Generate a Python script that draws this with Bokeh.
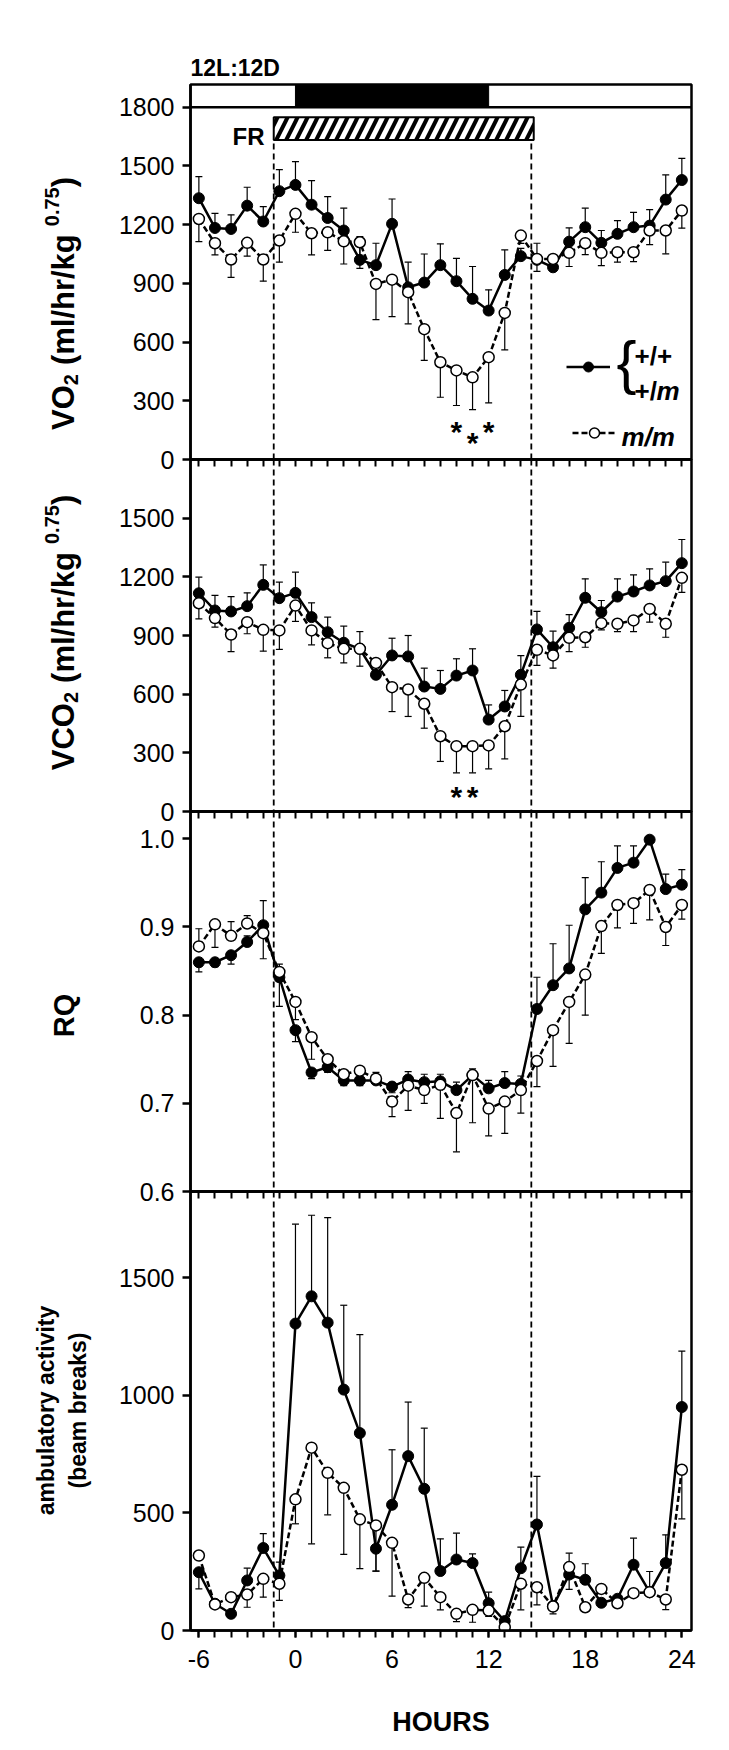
import math
from bokeh.plotting import figure
from bokeh.models import (Range1d, FixedTicker, Span, Label, Legend, LegendItem,
                          ColumnDataSource, PrintfTickFormatter)
from bokeh.layouts import column, row
from bokeh.embed import file_html
from bokeh.resources import INLINE
from bokeh.core.properties import value

FONT = "Liberation Sans"

# ---------------- data ----------------
hours = list(range(-6, 25))
x_tick_labels = [-6, 0, 6, 12, 18, 24]

vo2_wt = [1335, 1183, 1178, 1297, 1216, 1371, 1403, 1302, 1234, 1170, 1020, 993, 1204, 880, 904, 993,
          911, 821, 761, 943, 1039, 1020, 982, 1113, 1187, 1107, 1153, 1187, 1195, 1328, 1428]
vo2_wt_bar = [1445, 1258, 1250, 1391, 1292, 1481, 1522, 1425, 1343, 1284, 1139, 1105, 1331, 1008, 1050, 1102,
              1028, 986, 867, 1071, 1079, 1105, 1012, 1183, 1284, 1170, 1221, 1263, 1277, 1454, 1539]
vo2_mm = [1229, 1105, 1022, 1107, 1022, 1119, 1255, 1156, 1161, 1115, 1110, 897, 919, 855, 666, 497,
          455, 420, 523, 749, 1144, 1025, 1025, 1056, 1105, 1056, 1059, 1059, 1170, 1170, 1272]
vo2_mm_bar = [1113, 1045, 931, 1039, 911, 1008, 1161, 1045, 1068, 999, 977, 715, 730, 693, 506, 318,
              276, 255, 289, 560, 1104, 961, 995, 986, 1047, 991, 1008, 1011, 1098, 1051, 1182]

vco2_wt = [1116, 1028, 1023, 1050, 1159, 1091, 1118, 994, 917, 863, 832, 699, 798, 793, 639, 627,
           695, 721, 470, 537, 699, 931, 840, 939, 1093, 1019, 1099, 1125, 1156, 1178, 1270]
vco2_wt_bar = [1198, 1105, 1099, 1118, 1261, 1173, 1224, 1067, 994, 948, 920, 769, 886, 900, 733, 721,
               781, 832, 545, 619, 797, 1023, 922, 1007, 1190, 1079, 1190, 1210, 1241, 1275, 1391]
vco2_mm = [1065, 989, 905, 968, 929, 926, 1053, 926, 861, 832, 832, 760, 636, 624, 551, 385,
           334, 334, 338, 436, 649, 827, 798, 888, 891, 963, 960, 977, 1036, 960, 1195]
vco2_mm_bar = [985, 943, 818, 909, 820, 829, 972, 852, 786, 760, 743, 716, 511, 486, 426, 256,
               198, 198, 218, 269, 486, 747, 733, 818, 840, 929, 920, 920, 968, 891, 1121]

rq_wt = [0.860, 0.860, 0.868, 0.883, 0.902, 0.843, 0.783, 0.735, 0.741, 0.726, 0.726, 0.726, 0.719, 0.727,
         0.724, 0.725, 0.715, 0.732, 0.717, 0.723, 0.722, 0.807, 0.834, 0.853, 0.920, 0.939, 0.967, 0.973,
         0.999, 0.943, 0.948]
rq_wt_bar = [0.849, 0.855, 0.858, 0.890, 0.930, 0.810, 0.770, 0.728, 0.735, 0.720, 0.720, 0.735, 0.712, 0.736,
             0.733, 0.733, 0.724, 0.739, 0.726, 0.736, 0.731, 0.843, 0.881, 0.902, 0.956, 0.974, 0.992, 0.992,
             0.999, 0.960, 0.965]
rq_mm = [0.878, 0.903, 0.890, 0.904, 0.893, 0.849, 0.815, 0.775, 0.750, 0.733, 0.737, 0.728, 0.702, 0.720,
         0.715, 0.721, 0.689, 0.732, 0.694, 0.702, 0.715, 0.748, 0.783, 0.815, 0.846, 0.901, 0.925, 0.927,
         0.942, 0.900, 0.925]
rq_mm_bar = [0.898, 0.877, 0.906, 0.913, 0.864, 0.858, 0.795, 0.750, 0.745, 0.728, 0.725, 0.722, 0.685, 0.692,
             0.700, 0.683, 0.645, 0.678, 0.663, 0.666, 0.689, 0.719, 0.742, 0.768, 0.800, 0.870, 0.899, 0.904,
             0.908, 0.879, 0.909]

act_wt = [248, 114, 71, 213, 351, 234, 1306, 1422, 1310, 1025, 840, 348, 535, 742, 603, 253,
          302, 287, 116, 40, 265, 451, 104, 238, 216, 118, 135, 280, 163, 287, 951]
act_wt_bar = [177, 114, 71, 265, 412, 291, 1729, 1767, 1757, 1384, 1259, 253, 769, 972, 861, 390,
              414, 326, 163, 40, 355, 656, 104, 329, 284, 118, 135, 393, 251, 407, 1189]
act_mm = [319, 111, 142, 153, 220, 199, 558, 778, 671, 607, 473, 447, 373, 132, 224, 142,
          71, 88, 85, 14, 199, 184, 102, 270, 99, 177, 116, 159, 163, 132, 684]
act_mm_bar = [319, 111, 142, 99, 142, 128, 454, 369, 492, 324, 263, 253, 146, 97, 104, 88,
              38, 35, 60, 14, 88, 109, 71, 175, 99, 160, 116, 159, 163, 89, 475]

vo2_ticks = [0, 300, 600, 900, 1200, 1500, 1800]
vco2_ticks = [0, 300, 600, 900, 1200, 1500]
rq_ticks = [0.6, 0.7, 0.8, 0.9, 1.0]
act_ticks = [0, 500, 1000, 1500]

dark_phase = [0, 12]          # dark part of the 12L:12D bar (hours)
fr_period = [-1.35, 14.65]    # food restriction window (dashed lines)
fr_box_right = 14.8
fr_box_y = [1633, 1749]       # FR box bottom/top in VO2 units
light_bar_y = [1800, 1916]

vo2_stars_x = [10, 11, 12]
vo2_stars_y = [190, 131, 190]
vco2_stars_x = [10, 11]
vco2_stars_y = [124, 124]

# ---------------- helpers ----------------
xr = Range1d(-6.52, 24.6)
FRAME_L = 190   # page x of the frames' left edge
LW = 110        # width of the label strip on the left


def make_fig(height, yr, top, bottom, mtop):
    p = figure(width=611, height=height, x_range=xr, y_range=yr, output_backend="svg",
               toolbar_location=None, min_border_left=FRAME_L - LW, min_border_right=30,
               min_border_top=top, min_border_bottom=bottom)
    p.margin = (mtop, 0, 0, 0)
    p.grid.visible = False
    p.background_fill_color = None
    p.border_fill_color = None
    p.outline_line_color = "black"
    p.outline_line_width = 2.5
    return p


def style(p, yticks, last=False):
    ya = p.yaxis[0]
    ya.ticker = FixedTicker(ticks=yticks, minor_ticks=[])
    ya.axis_line_width = 2.5
    ya.major_tick_line_width = 2.5
    ya.major_tick_out = 8
    ya.major_tick_in = 0
    ya.minor_tick_out = 0
    ya.minor_tick_in = 0
    ya.major_label_text_font = FONT
    ya.major_label_text_font_size = "25px"
    ya.major_label_text_color = "black"
    ya.major_label_standoff = 8
    xa = p.xaxis[0]
    xa.axis_line_width = 2.5
    xa.major_tick_line_width = 2
    xa.minor_tick_line_width = 2
    xa.major_tick_out = 7
    xa.major_tick_in = 0
    xa.minor_tick_out = 7
    xa.minor_tick_in = 0
    if last:
        xa.ticker = FixedTicker(ticks=x_tick_labels, minor_ticks=hours)
        xa.major_label_overrides = {t: str(t) for t in x_tick_labels}
        xa.major_label_text_font = FONT
        xa.major_label_text_font_size = "25px"
        xa.major_label_text_color = "black"
        xa.major_label_standoff = 12
    else:
        xa.ticker = FixedTicker(ticks=hours, minor_ticks=[])
        xa.major_label_text_font_size = "1px"
        xa.major_label_text_color = None
        xa.major_label_standoff = 0


def draw(p, wt, wt_bar, mm, mm_bar):
    s_wt = ColumnDataSource(dict(x=hours, y=wt, e=wt_bar))
    s_mm = ColumnDataSource(dict(x=hours, y=mm, e=mm_bar))
    for s in (s_wt, s_mm):
        p.segment("x", "y", "x", "e", source=s, line_color="black", line_width=1.2)
        p.scatter("x", "e", source=s, marker="dash", size=7, line_color="black", line_width=1.2)
    l_wt = p.line("x", "y", source=s_wt, line_color="black", line_width=2.5)
    l_mm = p.line("x", "y", source=s_mm, line_color="black", line_width=2.5, line_dash="6 3")
    m_wt = p.scatter("x", "y", source=s_wt, marker="circle", size=11, fill_color="black",
                     line_color="black", line_width=1)
    m_mm = p.scatter("x", "y", source=s_mm, marker="circle", size=11, fill_color="white",
                     line_color="black", line_width=1.5)
    return l_wt, m_wt, l_mm, m_mm


def lab(p, text, fx, fy, fbottom, size, style_="bold", align="left", baseline="alphabetic"):
    # label inside a panel frame, positioned with page pixel coordinates
    p.add_layout(Label(x=fx - FRAME_L, y=fbottom - fy, x_units="screen", y_units="screen",
                       text=text, text_font=FONT, text_font_size=f"{size}px",
                       text_font_style=style_, text_align=align, text_baseline=baseline,
                       text_color="black"))


def stars(p, xs, ys):
    src = ColumnDataSource(dict(x=xs, y=ys, t=["*"] * len(xs)))
    p.text("x", "y", text="t", source=src, text_font=value(FONT), text_font_size="30px",
           text_font_style="bold", text_align="center", text_baseline="middle", y_offset=9)


def fr_lines(p):
    for f in fr_period:
        p.add_layout(Span(location=f, dimension="height", line_color="black",
                          line_dash="6 4", line_width=1.8))


# ---------------- left strip with rotated axis titles ----------------
STRIP_H = 1740
lf = figure(width=LW, height=STRIP_H, x_range=Range1d(0, LW), y_range=Range1d(0, STRIP_H),
            output_backend="svg", toolbar_location=None, min_border=0,
            x_axis_location=None, y_axis_location=None)
lf.outline_line_color = None
lf.grid.visible = False
lf.background_fill_color = None
lf.border_fill_color = None

BW = {'V': 0.667, 'O': 0.778, 'C': 0.722, 'R': 0.722, 'Q': 0.778, ' ': 0.278, '(': 0.333,
      ')': 0.333, 'm': 0.889, 'l': 0.278, '/': 0.278, 'h': 0.611, 'r': 0.389, 'k': 0.556,
      'g': 0.611, '0': 0.556, '.': 0.278, '7': 0.556, '5': 0.556, '2': 0.556}


def tw(s, size):
    return sum(BW.get(c, 0.6) for c in s) * size


def vtext(text, fx, fy, size, align="left"):
    lf.add_layout(Label(x=fx, y=STRIP_H - fy, text=text, text_font=FONT,
                        text_font_size=f"{size}px", text_font_style="bold",
                        text_align=align, text_baseline="alphabetic",
                        angle=math.pi / 2, angle_units="rad", text_color="black"))


def vlabel(pieces, base_x, center_y):
    total = sum(tw(t, sz) + g for t, sz, sh, g in pieces)
    y = center_y + total / 2
    for t, sz, sh, g in pieces:
        y -= g
        vtext(t, base_x + sh, y, sz)
        y -= tw(t, sz)


vlabel([("VO", 31, 0, 0), ("2", 20, 7, 0), ("(ml/hr/kg", 31, 0, 9), ("0.75", 20, -12, 8),
        (")", 31, 0, 0)], 63, 303)
vlabel([("VCO", 31, 0, 0), ("2", 20, 7, 0), ("(ml/hr/kg", 31, 0, 9), ("0.75", 20, -12, 8),
        (")", 31, 0, 0)], 63, 632)
vlabel([("RQ", 29, 0, 0)], 63, 1015)
vtext("ambulatory activity", 45, 1410, 23, align="center")
vtext("(beam breaks)", 77, 1410, 23, align="center")

# ---------------- panel 1: VO2 ----------------
B1 = 459
p1 = make_fig(475, Range1d(0, light_bar_y[1]), 84, 16, 0)
p1.title.text = "12L:12D"
p1.title.align = "left"
p1.title.text_font = FONT
p1.title.text_font_size = "23px"
p1.title.text_font_style = "bold"
p1.title.text_color = "black"
p1.title.standoff = 8
style(p1, vo2_ticks)
p1.quad(left=[dark_phase[0]], right=[dark_phase[1]], bottom=[light_bar_y[0]], top=[light_bar_y[1]],
        fill_color="black", line_color="black")
p1.add_layout(Span(location=light_bar_y[0], dimension="width", line_color="black", line_width=2.5))
p1.segment(x0=fr_period, y0=[0, 0], x1=fr_period, y1=[fr_box_y[0]] * 2,
           line_color="black", line_dash="6 4", line_width=1.8)
p1.quad(left=[fr_period[0]], right=[fr_box_right], bottom=[fr_box_y[0]], top=[fr_box_y[1]],
        fill_color="white", line_color="black", line_width=2, hatch_pattern="/",
        hatch_color="black", hatch_weight=4, hatch_scale=20)
l_wt, m_wt, l_mm, m_mm = draw(p1, vo2_wt, vo2_wt_bar, vo2_mm, vo2_mm_bar)
stars(p1, vo2_stars_x, vo2_stars_y)

leg_kw = dict(padding=0, margin=0, spacing=0, glyph_width=44, glyph_height=25, label_width=0,
              label_height=0, label_standoff=0, border_line_color=None, background_fill_alpha=0,
              label_text_font_size="1px")
p1.add_layout(Legend(items=[LegendItem(label=" ", renderers=[l_wt, m_wt])],
                     location=(566 - FRAME_L, B1 - 367 - 12), **leg_kw))
p1.add_layout(Legend(items=[LegendItem(label=" ", renderers=[l_mm, m_mm])],
                     location=(572 - FRAME_L, B1 - 433 - 12), **leg_kw))
lab(p1, "{", 616, 362, B1, 60, style_="normal")
lab(p1, "+/+", 634, 355, B1, 26)
lab(p1, "+/", 634, 390, B1, 26)
lab(p1, "m", 656, 390, B1, 26, style_="bold italic")
lab(p1, "m/m", 621, 436, B1, 26, style_="bold italic")
lab(p1, "FR", 264, 136, B1, 24, align="right")

# ---------------- panel 2: VCO2 ----------------
p2 = make_fig(384, Range1d(0, 1800), 16, 16, -32)
style(p2, vco2_ticks)
fr_lines(p2)
draw(p2, vco2_wt, vco2_wt_bar, vco2_mm, vco2_mm_bar)
stars(p2, vco2_stars_x, vco2_stars_y)

# ---------------- panel 3: RQ ----------------
p3 = make_fig(412, Range1d(0.6, 1.031), 16, 16, -32)
style(p3, rq_ticks)
p3.yaxis[0].formatter = PrintfTickFormatter(format="%.1f")
fr_lines(p3)
draw(p3, rq_wt, rq_wt_bar, rq_mm, rq_mm_bar)

# ---------------- panel 4: activity ----------------
p4 = make_fig(565, Range1d(0, 1868), 16, 110, -32)
style(p4, act_ticks, last=True)
p4.xaxis[0].axis_label = "HOURS"
p4.xaxis[0].axis_label_text_font = FONT
p4.xaxis[0].axis_label_text_font_size = "27px"
p4.xaxis[0].axis_label_text_font_style = "bold"
p4.xaxis[0].axis_label_text_color = "black"
p4.xaxis[0].axis_label_standoff = 36
fr_lines(p4)
draw(p4, act_wt, act_wt_bar, act_mm, act_mm_bar)

layout = row(lf, column(p1, p2, p3, p4, spacing=0), spacing=0)
open("out.html", "w").write(file_html(layout, INLINE))
